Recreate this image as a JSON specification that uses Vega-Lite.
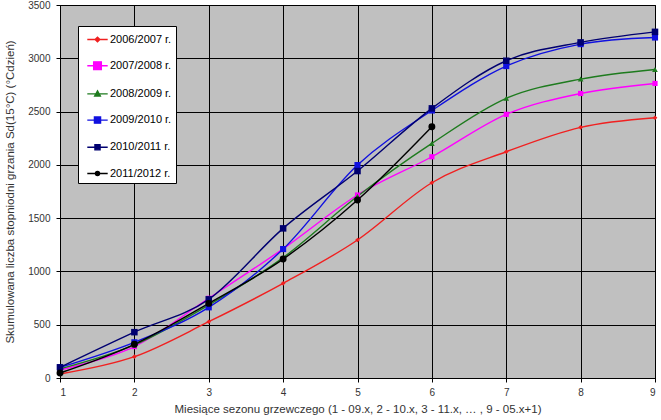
{
  "$schema": "https://vega.github.io/schema/vega-lite/v6.json",
  "width": 595,
  "height": 373,
  "autosize": "none",
  "padding": {"left": 60, "top": 5, "right": 6, "bottom": 42},
  "background": "white",
  "config": {
    "font": "Liberation Sans",
    "view": {"fill": "#C0C0C0", "stroke": "#000000", "strokeWidth": 1},
    "axis": {
      "domainColor": "#000000",
      "gridColor": "#000000",
      "gridOpacity": 1,
      "gridWidth": 1,
      "tickColor": "#000000",
      "tickSize": 4,
      "labelColor": "#333333",
      "titleColor": "#333333",
      "labelFontSize": 10,
      "titleFontSize": 11.5,
      "titleFontWeight": "normal"
    }
  },
  "resolve": {"legend": {"color": "independent"}},
  "data": {
    "values": [
      {"sezon": "2006/2007 r.", "m": 1, "v": 38},
      {"sezon": "2006/2007 r.", "m": 2, "v": 200},
      {"sezon": "2006/2007 r.", "m": 3, "v": 528},
      {"sezon": "2006/2007 r.", "m": 4, "v": 888},
      {"sezon": "2006/2007 r.", "m": 5, "v": 1295},
      {"sezon": "2006/2007 r.", "m": 6, "v": 1832},
      {"sezon": "2006/2007 r.", "m": 7, "v": 2123},
      {"sezon": "2006/2007 r.", "m": 8, "v": 2352},
      {"sezon": "2006/2007 r.", "m": 9, "v": 2442},
      {"sezon": "2007/2008 r.", "m": 1, "v": 75},
      {"sezon": "2007/2008 r.", "m": 2, "v": 295},
      {"sezon": "2007/2008 r.", "m": 3, "v": 748},
      {"sezon": "2007/2008 r.", "m": 4, "v": 1212},
      {"sezon": "2007/2008 r.", "m": 5, "v": 1717},
      {"sezon": "2007/2008 r.", "m": 6, "v": 2076},
      {"sezon": "2007/2008 r.", "m": 7, "v": 2474},
      {"sezon": "2007/2008 r.", "m": 8, "v": 2670},
      {"sezon": "2007/2008 r.", "m": 9, "v": 2764},
      {"sezon": "2008/2009 r.", "m": 1, "v": 85},
      {"sezon": "2008/2009 r.", "m": 2, "v": 310},
      {"sezon": "2008/2009 r.", "m": 3, "v": 685},
      {"sezon": "2008/2009 r.", "m": 4, "v": 1130},
      {"sezon": "2008/2009 r.", "m": 5, "v": 1705},
      {"sezon": "2008/2009 r.", "m": 6, "v": 2201},
      {"sezon": "2008/2009 r.", "m": 7, "v": 2624},
      {"sezon": "2008/2009 r.", "m": 8, "v": 2805},
      {"sezon": "2008/2009 r.", "m": 9, "v": 2895},
      {"sezon": "2009/2010 r.", "m": 1, "v": 100},
      {"sezon": "2009/2010 r.", "m": 2, "v": 335},
      {"sezon": "2009/2010 r.", "m": 3, "v": 663},
      {"sezon": "2009/2010 r.", "m": 4, "v": 1210},
      {"sezon": "2009/2010 r.", "m": 5, "v": 1998},
      {"sezon": "2009/2010 r.", "m": 6, "v": 2510},
      {"sezon": "2009/2010 r.", "m": 7, "v": 2927},
      {"sezon": "2009/2010 r.", "m": 8, "v": 3133},
      {"sezon": "2009/2010 r.", "m": 9, "v": 3195},
      {"sezon": "2010/2011 r.", "m": 1, "v": 100},
      {"sezon": "2010/2011 r.", "m": 2, "v": 430},
      {"sezon": "2010/2011 r.", "m": 3, "v": 738},
      {"sezon": "2010/2011 r.", "m": 4, "v": 1404},
      {"sezon": "2010/2011 r.", "m": 5, "v": 1942},
      {"sezon": "2010/2011 r.", "m": 6, "v": 2530},
      {"sezon": "2010/2011 r.", "m": 7, "v": 2977},
      {"sezon": "2010/2011 r.", "m": 8, "v": 3149},
      {"sezon": "2010/2011 r.", "m": 9, "v": 3248},
      {"sezon": "2011/2012 r.", "m": 1, "v": 47},
      {"sezon": "2011/2012 r.", "m": 2, "v": 316},
      {"sezon": "2011/2012 r.", "m": 3, "v": 700},
      {"sezon": "2011/2012 r.", "m": 4, "v": 1116},
      {"sezon": "2011/2012 r.", "m": 5, "v": 1670},
      {"sezon": "2011/2012 r.", "m": 6, "v": 2358}
    ]
  },
  "encoding": {
    "x": {
      "field": "m",
      "type": "quantitative",
      "scale": {"domain": [1, 9], "nice": false},
      "axis": {
        "values": [1, 2, 3, 4, 5, 6, 7, 8, 9],
        "labelPadding": 5,
        "titlePadding": 6,
        "title": "Miesiące sezonu grzewczego (1 - 09.x, 2 - 10.x, 3 - 11.x, … , 9 - 05.x+1)"
      }
    },
    "y": {
      "field": "v",
      "type": "quantitative",
      "scale": {"domain": [0, 3500], "nice": false},
      "axis": {
        "values": [0, 500, 1000, 1500, 2000, 2500, 3000, 3500],
        "format": "d",
        "labelPadding": 6,
        "titlePadding": 12,
        "title": "Skumulowana liczba stopniodni grzania Sd(15°C)  (°Cdzień)"
      }
    }
  },
  "layer": [
    {
      "mark": {"type": "line", "interpolate": "cardinal", "strokeWidth": 1.4},
      "encoding": {
        "color": {
          "field": "sezon",
          "type": "nominal",
          "scale": {
            "domain": ["2006/2007 r.", "2007/2008 r.", "2008/2009 r.", "2009/2010 r.", "2010/2011 r.", "2011/2012 r."],
            "range": ["#F02020", "#FF00FF", "#1E7B1E", "#1010E0", "#000070", "#000000"]
          },
          "legend": {
            "title": null,
            "orient": "none",
            "legendX": 18,
            "legendY": 21,
            "fillColor": "#FFFFFF",
            "strokeColor": "#000000",
            "padding": 4,
            "rowPadding": 11.2,
            "symbolType": "stroke",
            "symbolSize": 289,
            "symbolOffset": 6,
            "symbolStrokeWidth": 1.4,
            "labelFontSize": 11,
            "labelColor": "#000000",
            "labelOffset": 3,
            "encode": {
              "symbols": {
                "update": {
                  "fill": {"scale": "color", "field": "value"},
                  "shape": {
                    "signal": "datum.value == '2006/2007 r.' ? 'M-1.2,0H1.2M0,-0.28L0.28,0L0,0.28L-0.28,0Z' : datum.value == '2007/2008 r.' ? 'M-1.2,0H1.2M-0.45,-0.45H0.45V0.45H-0.45Z' : datum.value == '2008/2009 r.' ? 'M-1.2,0H1.2M0,-0.35L0.33,0.25H-0.33Z' : datum.value == '2009/2010 r.' ? 'M-1.2,0H1.2M-0.36,-0.36H0.36V0.36H-0.36Z' : datum.value == '2010/2011 r.' ? 'M-1.2,0H1.2M-0.3,-0.3H0.3V0.3H-0.3Z' : 'M-1.2,0H1.2M0.24,0A0.24,0.24 0 1,1 -0.24,0A0.24,0.24 0 1,1 0.24,0Z'"
                  }
                }
              }
            }
          }
        }
      }
    },
    {
      "mark": {"type": "point", "filled": true, "opacity": 1},
      "encoding": {
        "shape": {
          "field": "sezon",
          "type": "nominal",
          "legend": null,
          "scale": {
            "domain": ["2006/2007 r.", "2007/2008 r.", "2008/2009 r.", "2009/2010 r.", "2010/2011 r.", "2011/2012 r."],
            "range": ["diamond", "square", "triangle-up", "square", "square", "circle"]
          }
        },
        "size": {
          "field": "sezon",
          "type": "nominal",
          "legend": null,
          "scale": {
            "domain": ["2006/2007 r.", "2007/2008 r.", "2008/2009 r.", "2009/2010 r.", "2010/2011 r.", "2011/2012 r."],
            "range": [22, 48, 28, 36, 24, 20]
          }
        },
        "color": {"field": "sezon", "type": "nominal", "legend": null}
      }
    }
  ]
}
